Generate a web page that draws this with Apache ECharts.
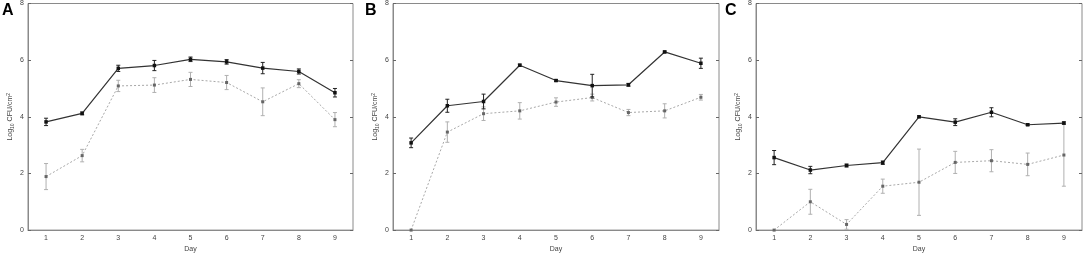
<!DOCTYPE html>
<html>
<head>
<meta charset="utf-8">
<script src="https://cdn.jsdelivr.net/npm/echarts@6/dist/echarts.min.js"></script>
<style>
  html, body { margin: 0; padding: 0; background: #fff; }
  #chart { width: 1084px; height: 258px; }
</style>
</head>
<body>
<div id="chart"></div>
<script>
// --- data ---
const days = ['1', '2', '3', '4', '5', '6', '7', '8', '9']
const yTicks = [0, 2, 4, 6, 8]

// panel A
const aSolid = [3.82, 4.12, 5.71, 5.81, 6.03, 5.94, 5.72, 5.60, 4.85]
const aSolidErr = [0.13, 0.05, 0.11, 0.18, 0.08, 0.08, 0.20, 0.09, 0.15]
const aDotted = [1.89, 2.63, 5.09, 5.12, 5.32, 5.21, 4.53, 5.17, 3.90]
const aDottedErr = [0.46, 0.22, 0.20, 0.26, 0.25, 0.25, 0.49, 0.14, 0.25]

// panel B
const bSolid = [3.08, 4.39, 4.54, 5.82, 5.28, 5.10, 5.13, 6.29, 5.89]
const bSolidErr = [0.17, 0.23, 0.26, 0.04, 0.03, 0.40, 0.05, 0.03, 0.18]
const bDotted = [0.00, 3.46, 4.11, 4.21, 4.52, 4.68, 4.15, 4.21, 4.69]
const bDottedErr = [0.00, 0.36, 0.24, 0.29, 0.15, 0.12, 0.11, 0.25, 0.10]

// panel C
const cSolid = [2.56, 2.12, 2.28, 2.38, 4.00, 3.81, 4.16, 3.72, 3.78]
const cSolidErr = [0.25, 0.13, 0.05, 0.06, 0.03, 0.12, 0.16, 0.03, 0.04]
const cDotted = [0.00, 1.00, 0.20, 1.55, 1.69, 2.39, 2.45, 2.32, 2.65]
const cDottedErr = [0.00, 0.44, 0.17, 0.25, 1.17, 0.39, 0.39, 0.40, 1.10]

const panels = [
  { letter: 'A', left: 28, width: 325, tx: 2, solid: aSolid, solidErr: aSolidErr, dotted: aDotted, dottedErr: aDottedErr },
  { letter: 'B', left: 393, width: 326, tx: 365, solid: bSolid, solidErr: bSolidErr, dotted: bDotted, dottedErr: bDottedErr },
  { letter: 'C', left: 756, width: 326, tx: 725, solid: cSolid, solidErr: cSolidErr, dotted: cDotted, dottedErr: cDottedErr }
]

const FRAME = '#8a8a8a'
const TXT = '#444'
const FONT = 'Liberation Sans, Arial, sans-serif'

// --- 误差线 ---
const errRender = (color) => (params, api) => {
  const x = api.value(0)
  const lo = api.coord([x, api.value(1)])
  const hi = api.coord([x, api.value(2)])
  if (Math.abs(lo[1] - hi[1]) < 0.5) return
  const cap = 2
  const style = { stroke: color, lineWidth: 1 }
  return {
    type: 'group',
    children: [
      { type: 'line', shape: { x1: lo[0], y1: lo[1], x2: hi[0], y2: hi[1] }, style },
      { type: 'line', shape: { x1: lo[0] - cap, y1: lo[1], x2: lo[0] + cap, y2: lo[1] }, style },
      { type: 'line', shape: { x1: hi[0] - cap, y1: hi[1], x2: hi[0] + cap, y2: hi[1] }, style }
    ]
  }
}

const errData = (vals, errs) => vals.map((v, i) => [i, v - errs[i], v + errs[i]])

const grid = [], xAxis = [], yAxis = [], series = [], graphic = []

panels.forEach((p, k) => {
  grid.push({
    left: p.left, width: p.width, top: 3, bottom: 23,
    show: true, borderColor: FRAME, borderWidth: 1, backgroundColor: '#fff'
  })
  const xi = xAxis.length, yi = yAxis.length
  xAxis.push({
    type: 'category', gridIndex: k, data: days, boundaryGap: true,
    axisLine: { lineStyle: { color: FRAME } },
    axisTick: { alignWithLabel: true, inside: true, length: 3, lineStyle: { color: '#666' } },
    axisLabel: { fontSize: 7, color: TXT, margin: 4, fontFamily: FONT },
    name: 'Day', nameLocation: 'middle', nameGap: 14,
    nameTextStyle: { fontSize: 7, color: TXT, fontFamily: FONT }
  })
  // top ticks
  xAxis.push({
    type: 'category', gridIndex: k, data: days, boundaryGap: true, position: 'top',
    axisLine: { show: false },
    axisTick: { alignWithLabel: true, inside: true, length: 3, lineStyle: { color: '#666' } },
    axisLabel: { show: false }
  })
  yAxis.push({
    type: 'value', gridIndex: k, min: 0, max: 8, interval: 2,
    splitLine: { show: false },
    axisLine: { show: true, lineStyle: { color: FRAME } },
    axisTick: { show: true, inside: true, length: 3, lineStyle: { color: '#666' } },
    axisLabel: { fontSize: 7, color: TXT, margin: 4, fontFamily: FONT },
    name: '{n|Log}{s|10}{n| CFU/cm}{p|2}', nameLocation: 'middle', nameGap: 13,
    nameTextStyle: {
      color: TXT, fontFamily: FONT,
      rich: {
        n: { fontSize: 7, color: TXT, fontFamily: FONT },
        s: { fontSize: 5, color: TXT, fontFamily: FONT, verticalAlign: 'bottom', padding: [4, 0, 0, 0] },
        p: { fontSize: 5, color: TXT, fontFamily: FONT, verticalAlign: 'top', padding: [0, 0, 4, 0] }
      }
    }
  })
  // right ticks
  yAxis.push({
    type: 'value', gridIndex: k, min: 0, max: 8, interval: 2, position: 'right',
    splitLine: { show: false },
    axisLine: { show: false },
    axisTick: { show: true, inside: true, length: 3, lineStyle: { color: '#666' } },
    axisLabel: { show: false }
  })

  series.push({
    type: 'custom', xAxisIndex: xi, yAxisIndex: yi,
    renderItem: errRender('#b0b0b0'), data: errData(p.dotted, p.dottedErr), z: 2, silent: true
  })
  series.push({
    type: 'line', xAxisIndex: xi, yAxisIndex: yi, data: p.dotted,
    symbol: 'rect', symbolSize: 3, showSymbol: true,
    lineStyle: { color: '#a8a8a8', width: 1, type: [2, 2] },
    itemStyle: { color: '#666' }, z: 3, animation: false
  })
  series.push({
    type: 'custom', xAxisIndex: xi, yAxisIndex: yi,
    renderItem: errRender('#222'), data: errData(p.solid, p.solidErr), z: 4, silent: true
  })
  series.push({
    type: 'line', xAxisIndex: xi, yAxisIndex: yi, data: p.solid,
    symbol: 'rect', symbolSize: 3.5,
    lineStyle: { color: '#333', width: 1.2 },
    itemStyle: { color: '#111' }, z: 5, animation: false
  })

  graphic.push({
    type: 'text', left: p.tx, top: 3,
    style: { text: p.letter, font: 'bold 16px ' + FONT, fill: '#000' }
  })
})

const myChart = echarts.init(document.getElementById('chart'))
myChart.setOption({
  animation: false,
  backgroundColor: '#fff',
  grid, xAxis, yAxis, series, graphic
})
</script>
</body>
</html>
